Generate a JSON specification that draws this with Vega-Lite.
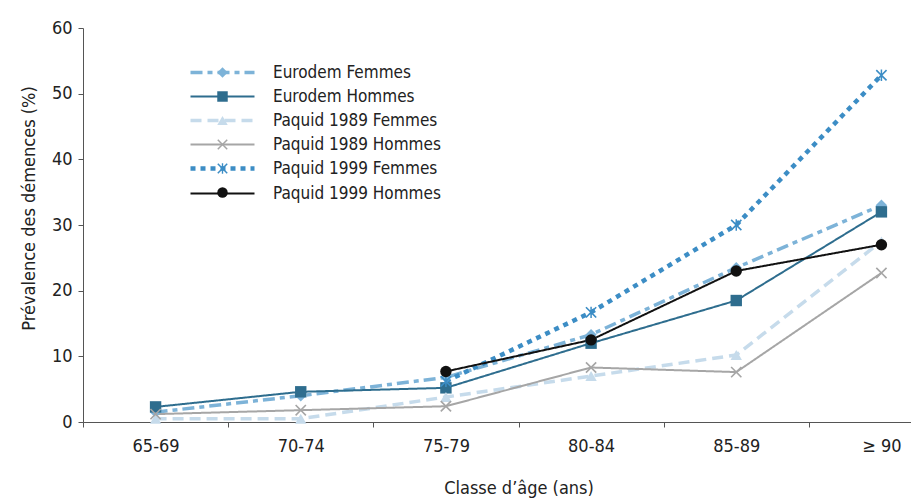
{
  "$schema": "https://vega.github.io/schema/vega-lite/v6.json",
  "width": 829,
  "height": 394,
  "autosize": {"type": "none"},
  "padding": {"left": 83, "top": 28, "right": 0, "bottom": 78},
  "background": "white",
  "config": {
    "font": "DejaVu Sans Condensed",
    "view": {"stroke": null}
  },
  "data": {
    "values": [
      {"age": "65-69", "serie": "Eurodem Femmes", "v": 1.5},
      {"age": "70-74", "serie": "Eurodem Femmes", "v": 4.0},
      {"age": "75-79", "serie": "Eurodem Femmes", "v": 6.8},
      {"age": "80-84", "serie": "Eurodem Femmes", "v": 13.3},
      {"age": "85-89", "serie": "Eurodem Femmes", "v": 23.5},
      {"age": "≥ 90", "serie": "Eurodem Femmes", "v": 33.0},
      {"age": "65-69", "serie": "Eurodem Hommes", "v": 2.3},
      {"age": "70-74", "serie": "Eurodem Hommes", "v": 4.6},
      {"age": "75-79", "serie": "Eurodem Hommes", "v": 5.2},
      {"age": "80-84", "serie": "Eurodem Hommes", "v": 12.0},
      {"age": "85-89", "serie": "Eurodem Hommes", "v": 18.5},
      {"age": "≥ 90", "serie": "Eurodem Hommes", "v": 32.0},
      {"age": "65-69", "serie": "Paquid 1989 Femmes", "v": 0.5},
      {"age": "70-74", "serie": "Paquid 1989 Femmes", "v": 0.5},
      {"age": "75-79", "serie": "Paquid 1989 Femmes", "v": 3.8},
      {"age": "80-84", "serie": "Paquid 1989 Femmes", "v": 7.0},
      {"age": "85-89", "serie": "Paquid 1989 Femmes", "v": 10.2},
      {"age": "≥ 90", "serie": "Paquid 1989 Femmes", "v": 27.5},
      {"age": "65-69", "serie": "Paquid 1989 Hommes", "v": 1.2},
      {"age": "70-74", "serie": "Paquid 1989 Hommes", "v": 1.8},
      {"age": "75-79", "serie": "Paquid 1989 Hommes", "v": 2.4},
      {"age": "80-84", "serie": "Paquid 1989 Hommes", "v": 8.3},
      {"age": "85-89", "serie": "Paquid 1989 Hommes", "v": 7.6},
      {"age": "≥ 90", "serie": "Paquid 1989 Hommes", "v": 22.7},
      {"age": "75-79", "serie": "Paquid 1999 Femmes", "v": 6.2},
      {"age": "80-84", "serie": "Paquid 1999 Femmes", "v": 16.7},
      {"age": "85-89", "serie": "Paquid 1999 Femmes", "v": 30.0},
      {"age": "≥ 90", "serie": "Paquid 1999 Femmes", "v": 52.8},
      {"age": "75-79", "serie": "Paquid 1999 Hommes", "v": 7.7},
      {"age": "80-84", "serie": "Paquid 1999 Hommes", "v": 12.5},
      {"age": "85-89", "serie": "Paquid 1999 Hommes", "v": 23.0},
      {"age": "≥ 90", "serie": "Paquid 1999 Hommes", "v": 27.0}
    ]
  },
  "encoding": {
    "x": {
      "field": "age",
      "type": "nominal",
      "sort": ["65-69", "70-74", "75-79", "80-84", "85-89", "≥ 90"],
      "scale": {"type": "band", "range": [0, 871], "paddingInner": 0, "paddingOuter": 0},
      "axis": {
        "title": "Classe d’âge (ans)",
        "labelAngle": 0,
        "tickBand": "extent",
        "domainColor": "#555",
        "tickColor": "#555",
        "tickSize": 5,
        "labelPadding": 10,
        "labelFontSize": 18,
        "labelColor": "#222",
        "titleFontSize": 18,
        "titleFontWeight": "normal",
        "titleColor": "#222",
        "titlePadding": 24
      }
    },
    "y": {
      "field": "v",
      "type": "quantitative",
      "scale": {"domain": [0, 60], "nice": false},
      "axis": {
        "title": "Prévalence des démences (%)",
        "values": [0, 10, 20, 30, 40, 50, 60],
        "grid": false,
        "domainColor": "#555",
        "tickColor": "#555",
        "tickSize": 5,
        "labelPadding": 6,
        "labelFontSize": 18,
        "labelColor": "#222",
        "titleFontSize": 18,
        "titleFontWeight": "normal",
        "titleColor": "#222",
        "titlePadding": 13,
        "titleY": 180
      }
    }
  },
  "layer": [
    {
      "mark": {"type": "line"},
      "encoding": {
        "stroke": {
          "field": "serie",
          "type": "nominal",
          "scale": {
            "range": ["#7db3d8", "#2e6d8e", "#c6dbeb", "#a6a6a6", "#3c8dc5", "#111111"]
          },
          "legend": {
            "orient": "none",
            "legendX": 131,
            "legendY": 36,
            "title": null,
            "symbolType": "M-8,0L8,0",
            "symbolSize": 64,
            "symbolStrokeWidth": 3,
            "labelFontSize": 17,
            "labelColor": "#222",
            "labelOffset": 42,
            "labelLimit": 400,
            "rowPadding": 6
          }
        },
        "strokeDash": {
          "field": "serie",
          "type": "nominal",
          "scale": {
            "range": [[12, 5, 5, 5], [1, 0], [11, 6], [1, 0], [5, 5], [1, 0]]
          }
        },
        "strokeWidth": {
          "field": "serie",
          "type": "nominal",
          "scale": {
            "type": "ordinal",
            "range": [3.5, 2, 3.5, 2, 4.5, 2]
          },
          "legend": null
        }
      }
    },
    {
      "transform": [{"calculate": "datum.serie", "as": "marque"}],
      "mark": {"type": "point", "filled": true, "size": 130, "opacity": 1, "strokeWidth": 0},
      "encoding": {
        "fill": {
          "field": "marque",
          "type": "nominal",
          "scale": {
            "range": ["#7db3d8", "#2e6d8e", "#c6dbeb", "#a6a6a6", "#3c8dc5", "#111111"]
          },
          "legend": {
            "orient": "none",
            "legendX": 131,
            "legendY": 36,
            "title": null,
            "symbolSize": 110,
            "symbolStrokeWidth": 0,
            "labelFontSize": 17,
            "labelColor": "transparent",
            "labelOffset": 42,
            "labelLimit": 400,
            "rowPadding": 6
          }
        },
        "shape": {
          "field": "marque",
          "type": "nominal",
          "scale": {
            "range": [
              "diamond",
              "square",
              "triangle-up",
              "M-1,-0.8L-0.8,-1L0,-0.2L0.8,-1L1,-0.8L0.2,0L1,0.8L0.8,1L0,0.2L-0.8,1L-1,0.8L-0.2,0Z",
              "M-1,-0.8L-0.8,-1L0,-0.2L0.8,-1L1,-0.8L0.2,0L1,0.8L0.8,1L0,0.2L-0.8,1L-1,0.8L-0.2,0Z M-0.13,-1L0.13,-1L0.13,1L-0.13,1Z",
              "circle"
            ]
          }
        }
      }
    }
  ]
}
